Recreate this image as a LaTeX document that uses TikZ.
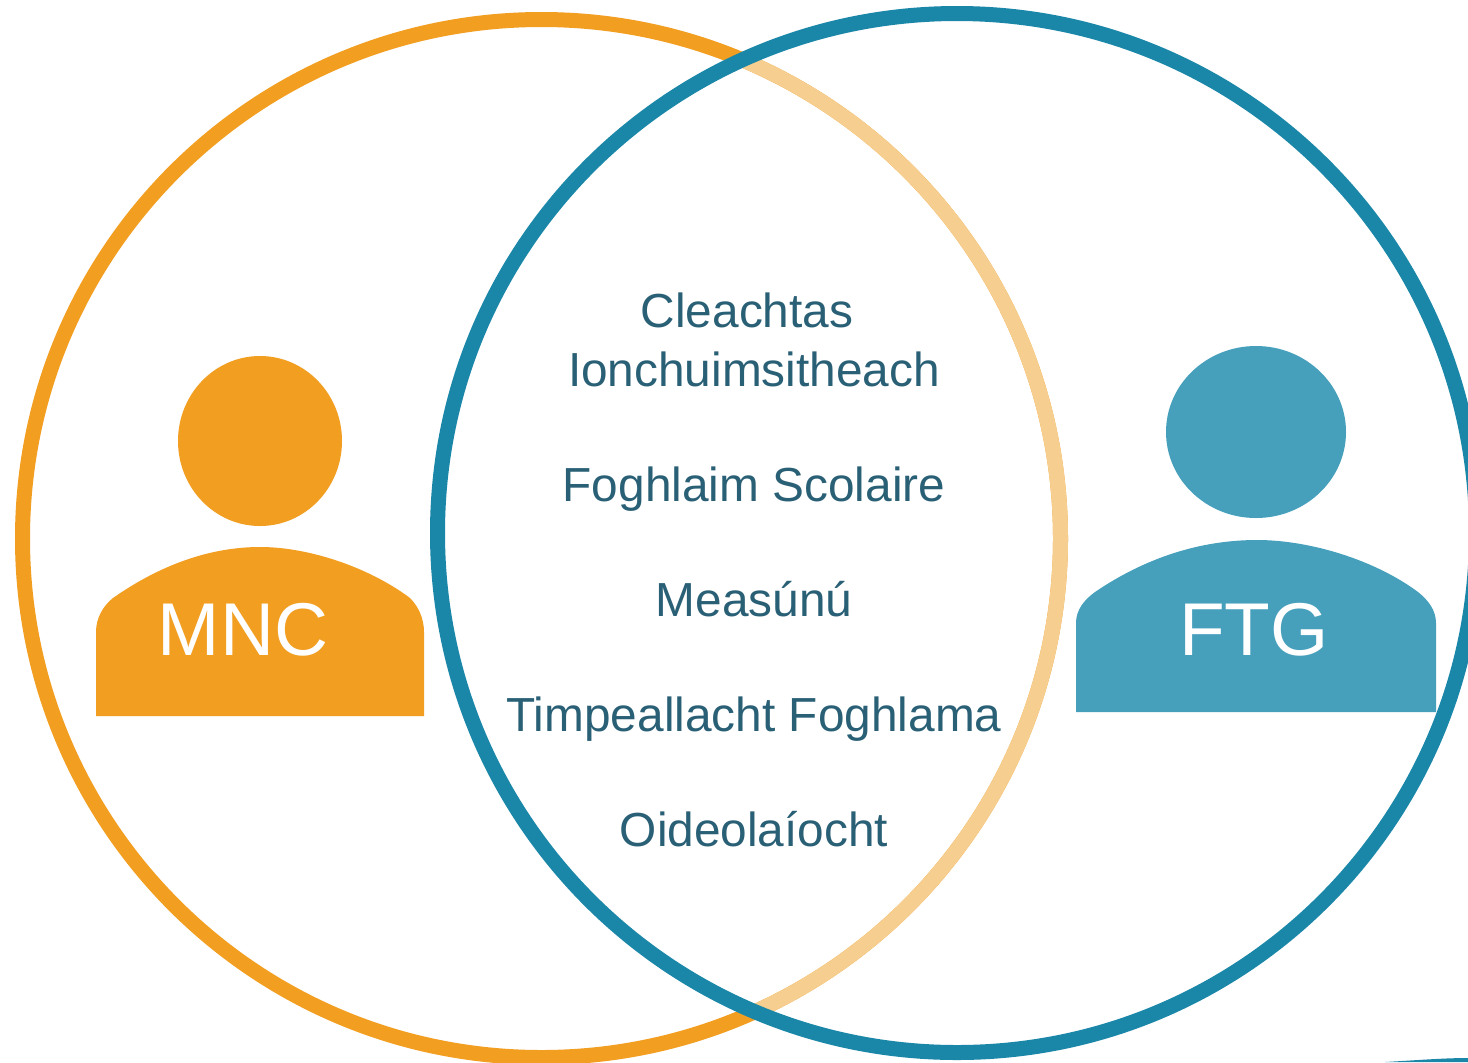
\documentclass[tikz,border=0pt]{standalone}
\usepackage{fontspec}
\setmainfont{Liberation Sans}
\usetikzlibrary{positioning}
\definecolor{mncorange}{HTML}{F19E21}
\definecolor{mnclight}{HTML}{F6CE8F}
\definecolor{ftgblue}{HTML}{1A87A9}
\definecolor{ftgbody}{HTML}{46A0BC}
\definecolor{areatext}{HTML}{2A6076}
\tikzset{
  ring/.style={line width=7.5pt},
  arealabel/.style={text=areatext,font=\fontsize{23.9}{28}\selectfont,inner sep=0pt,text height=17pt,text depth=5pt},
  rolelabel/.style={text=white,font=\fontsize{37.4}{45}\selectfont,inner sep=0pt,anchor=base}
}
\begin{document}
\begin{tikzpicture}[x=0.5pt,y=-0.5pt]
            \useasboundingbox (0,0) rectangle (1468,1062);
            \clip (0,0) rectangle (1468,1062);
            \fill[white] (0,0) rectangle (1468,1062);
            \draw[ring,mncorange] (541.5,538.5) circle (519);
            \begin{scope}
            \clip (957,533) circle (519.5);
            \draw[ring,mnclight] (541.5,538.5) circle (519);
            \end{scope}
            \draw[ring,ftgblue] (957,533) circle (519.5);
            \fill[ftgblue] (1385,1062) .. controls (1420,1060) and (1445,1058) .. (1468,1058) -- (1468,1062) -- cycle;
            % people
            \fill[mncorange] (260,441) ellipse [x radius=82,y radius=85];
            \fill[mncorange] (96,716) -- (96,632) .. controls (96,618) and (103,606) .. (113,598)
              .. controls (160,565) and (210,547) .. (260,547)
              .. controls (310,547) and (370,568) .. (410,598)
              .. controls (418,606) and (424,618) .. (424,632) -- (424,716) -- cycle;
            \fill[ftgbody] (1256,432) ellipse [x radius=90,y radius=86];
            \fill[ftgbody] (1076,712) -- (1076,623) .. controls (1076,610) and (1084,600) .. (1095,592)
              .. controls (1145,558) and (1200,540) .. (1257,540)
              .. controls (1310,540) and (1375,560) .. (1418,592)
              .. controls (1428,600) and (1436,610) .. (1436,623) -- (1436,712) -- cycle;
            \node[rolelabel] (mnc) at (243,655) {MNC};
            \node[rolelabel] (ftg) at (1254,655) {FTG};
            % shared areas
            \node[arealabel,anchor=base] (ion) at (754,386) {Ionchuimsitheach};
            \node[arealabel,above=7pt of ion,xshift=-3.5pt] (cle) {Cleachtas};
            \node[arealabel,below=35.1pt of ion] (fog) {Foghlaim Scolaire};
            \node[arealabel,below=35.1pt of fog] (mea) {Measúnú};
            \node[arealabel,below=35.1pt of mea] (tim) {Timpeallacht Foghlama};
            \node[arealabel,below=35.1pt of tim] (oid) {Oideolaíocht};
        \end{tikzpicture}
\end{document}
